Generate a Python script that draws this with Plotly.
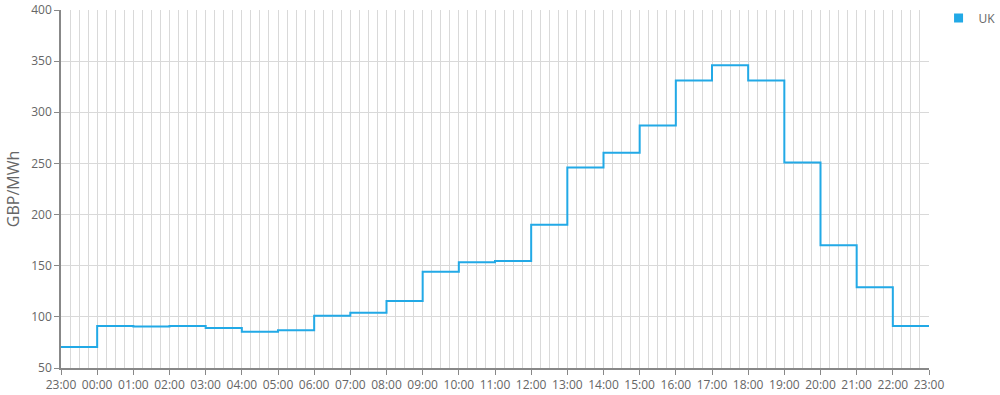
import plotly.graph_objects as go
import pandas as pd

hours = ["23:00", "00:00", "01:00", "02:00", "03:00", "04:00", "05:00", "06:00",
         "07:00", "08:00", "09:00", "10:00", "11:00", "12:00", "13:00", "14:00",
         "15:00", "16:00", "17:00", "18:00", "19:00", "20:00", "21:00", "22:00", "23:00"]
prices = [70.5, 91, 90.5, 91, 89, 85.5, 87, 101, 104, 115.5, 144, 153.5, 154.5, 190,
          246, 260.5, 287, 331, 346, 331, 251, 170, 129, 91, 91]
series_name = "UK"

start = pd.Timestamp("2024-01-01 23:00")
times = [start + pd.Timedelta(hours=i) for i in range(len(hours))]

color = "#22a9e6"
font_family = "Open Sans, Noto Sans, sans-serif"

fig = go.Figure()
fig.add_trace(go.Scatter(
    x=times, y=prices, mode="lines", line=dict(color=color, width=2, shape="hv"),
    showlegend=False, name=series_name, hoverinfo="x+y"))
fig.add_trace(go.Scatter(
    x=[None], y=[None], mode="markers", name=series_name,
    marker=dict(symbol="square", size=9, color=color), showlegend=True))

fig.update_layout(
    width=1000, height=395,
    margin=dict(l=61, r=71, t=10, b=27, autoexpand=False),
    paper_bgcolor="white", plot_bgcolor="white",
    font=dict(family=font_family, color="#666666", size=12),
    legend=dict(x=1.011, xanchor="left", y=1.018, yanchor="top",
                font=dict(size=12, color="#666666"), itemwidth=30),
    xaxis=dict(
        type="date", range=[times[0], times[-1]], automargin=False,
        tickformat="%H:%M", dtick=3600000, tick0=times[0],
        showgrid=True, gridcolor="#d9d9d9", gridwidth=1,
        minor=dict(dtick=900000, showgrid=True, gridcolor="#d9d9d9", ticks=""),
        ticks="outside", ticklen=5, tickcolor="#888888",
        showline=True, linecolor="#888888", linewidth=1.5,
        tickfont=dict(size=12, color="#666666"), zeroline=False,
    ),
    yaxis=dict(
        range=[50, 400], dtick=50, tick0=50, automargin=False,
        showgrid=True, gridcolor="#d9d9d9", gridwidth=1,
        ticks="outside", ticklen=5, tickcolor="#888888",
        showline=True, linecolor="#888888", linewidth=1.5,
        tickfont=dict(size=12, color="#666666"), zeroline=False,
        title=dict(text="GBP/MWh", font=dict(size=16, color="#666666"), standoff=8),
    ),
)

fig.write_html("out.html")
